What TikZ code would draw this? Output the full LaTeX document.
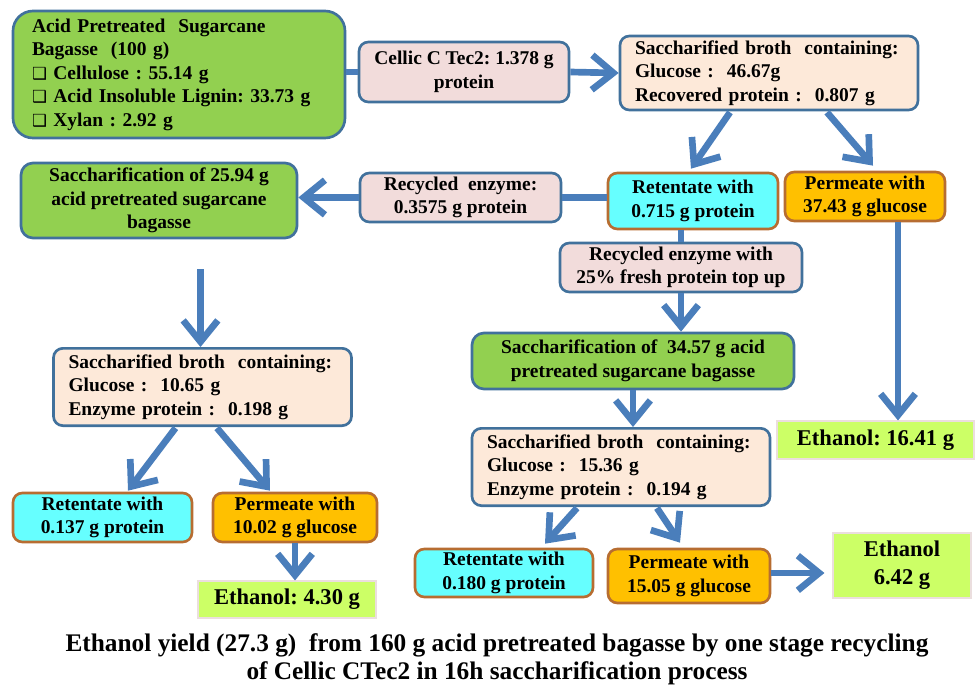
\documentclass[tikz,border=0pt]{standalone}
\usepackage{fontspec}
\setmainfont{Liberation Serif}
\newfontfamily\symfont{DejaVu Sans}
\usetikzlibrary{arrows.meta, calc}
\frenchspacing
\definecolor{flowblue}{RGB}{74,126,187}
\definecolor{edgeblue}{RGB}{65,113,156}
\definecolor{edgebrown}{RGB}{183,109,49}
\definecolor{bagassegreen}{RGB}{146,208,80}
\definecolor{enzymepink}{RGB}{242,220,219}
\definecolor{brothpeach}{RGB}{253,233,217}
\definecolor{retcyan}{RGB}{102,255,255}
\definecolor{permorange}{RGB}{255,192,0}
\definecolor{ethlime}{RGB}{204,255,102}
\definecolor{ethedge}{RGB}{235,222,222}
\newcommand{\tick}{{\symfont\fontsize{12.5}{12.5}\selectfont ❑}\ }
\tikzset{
  box/.style={
    draw=edgeblue,
    line width=2pt,
    rounded corners=7pt,
    inner sep=0pt,
    align=center,
    font=\fontsize{14.6}{17.6}\selectfont\bfseries
  },
  bagasse/.style={box, fill=bagassegreen, rounded corners=9pt},
  enzyme/.style={box, fill=enzymepink},
  broth/.style={
    box,
    fill=brothpeach,
    align=left,
    inner xsep=11.25pt,
    text width=201pt,
    minimum height=58pt
  },
  retentate/.style={box, fill=retcyan, draw=edgebrown},
  permeate/.style={box, fill=permorange, draw=edgebrown},
  ethanol/.style={
    draw=ethedge,
    line width=0.8pt,
    fill=ethlime,
    inner sep=0pt,
    align=center,
    font=\fontsize{16.9}{21}\selectfont\bfseries
  },
  flow/.style={
    draw=flowblue,
    line width=5pt,
    -{Straight Barb[length=16pt,width=26pt]}
  },
  link/.style={draw=flowblue, line width=5pt}
}

\begin{document}
\begin{tikzpicture}[x=0.75pt, y=-0.75pt]
  \useasboundingbox (0,0) rectangle (976,689);

  \node[bagasse, align=left, text width=220.5pt, inner xsep=14.25pt,
        minimum height=95.25pt, rounded corners=15pt] (src) at (179,74.5)
    {Acid Pretreated~ Sugarcane\\ Bagasse~ (100 g)\\ \tick Cellulose : 55.14 g\\
     \tick Acid Insoluble Lignin: 33.73 g\\ \tick Xylan : 2.92 g};
  \node[enzyme, minimum width=157.5pt, minimum height=45pt] (cel) at (464,72)
    {Cellic C Tec2: 1.378 g\\ protein};
  \node[broth, minimum height=55.5pt] (br1) at (769,73)
    {Saccharified broth~ containing:\\ Glucose :~ 46.67g\\ Recovered protein :~ 0.807 g};

  \node[bagasse, minimum width=207pt, minimum height=56.25pt] (sac1) at (159,200.5)
    {Saccharification of 25.94 g\\ acid pretreated sugarcane\\ bagasse};
  \node[enzyme, minimum width=150.75pt, minimum height=36.75pt] (rc1) at (460.5,197.5)
    {Recycled~ enzyme:\\ 0.3575 g protein};
  \node[retentate, minimum width=127.5pt, minimum height=42pt] (ret1) at (693,201)
    {Retentate with\\ 0.715 g protein};
  \node[permeate, minimum width=120pt, minimum height=36.75pt] (perm1) at (865,196.5)
    {Permeate with\\ 37.43 g glucose};

  \node[enzyme, minimum width=181.5pt, minimum height=36.75pt] (rc2) at (681,267.5)
    {Recycled enzyme with\\ 25\% fresh protein top up};
  \node[bagasse, minimum width=241.5pt, minimum height=42pt] (sac2) at (633,361)
    {Saccharification of~ 34.57 g acid\\ pretreated sugarcane bagasse};
  \node[broth] (br3) at (621,467)
    {Saccharified broth~ containing:\\ Glucose :~ 15.36 g\\ Enzyme protein :~ 0.194 g};
  \node[ethanol, minimum width=147.75pt, minimum height=28.5pt] (eth1) at (875.5,440)
    {Ethanol: 16.41 g};

  \node[broth] (br2) at (202.5,387)
    {Saccharified broth~ containing:\\ Glucose :~ 10.65 g\\ Enzyme protein :~ 0.198 g};
  \node[retentate, minimum width=134.25pt, minimum height=36.75pt] (ret2) at (102.5,517.5)
    {Retentate with\\ 0.137 g protein};
  \node[permeate, minimum width=123pt, minimum height=36.75pt] (perm2) at (295,517.5)
    {Permeate with\\ 10.02 g glucose};
  \node[ethanol, minimum width=133.5pt, minimum height=27.75pt] (eth2) at (287,599.5)
    {Ethanol: 4.30 g};

  \node[retentate, minimum width=133.5pt, minimum height=36pt] (ret3) at (504,573)
    {Retentate with\\ 0.180 g protein};
  \node[permeate, minimum width=121.5pt, minimum height=40.5pt] (perm3) at (689,576)
    {Permeate with\\ 15.05 g glucose};
  \node[ethanol, minimum width=103.5pt, minimum height=48.75pt] (eth3) at (902,565.5)
    {Ethanol\\ 6.42 g};

  \node[align=center, font=\fontsize{19}{21}\selectfont\bfseries] (note) at (497,659)
    {Ethanol yield (27.3 g)~ from 160 g acid pretreated bagasse by one stage recycling\\
     of Cellic CTec2 in 16h saccharification process};

  \path (src.east |- cel.west) edge[link] (cel.west)
        (cel.east) edge[flow] (br1.west)
        ($(br1.south)+(-39,1)$) edge[flow] ($(ret1.north)+(-2,-3)$)
        ($(br1.south)+(58,1)$) edge[flow] ($(perm1.north)+(8,-5)$)
        (ret1.west |- rc1.east) edge[link] (rc1.east)
        (rc1.west) edge[flow] (rc1.west -| sac1.east)
        (ret1.south -| rc2.north) edge[link] (rc2.north)
        (rc2.south) edge[flow] (rc2.south |- sac2.north)
        ($(perm1.south)+(33,0)$) edge[flow] ($(eth1.north)+(22.5,0)$)
        ($(sac1.south -| br2.north)+(-2,30)$) edge[flow] ($(br2.north)+(-2,0)$)
        ($(br2.south)+(-27,1)$) edge[flow] ($(ret2.north)+(25.5,-1)$)
        ($(br2.south)+(14.5,1)$) edge[flow] ($(perm2.north)+(-25,-1)$)
        (perm2.south) edge[flow] (perm2.south |- eth2.north)
        (sac2.south) edge[flow] (sac2.south |- br3.north)
        ($(br3.south)+(-44,1)$) edge[flow] ($(ret3.north)+(41,-4)$)
        ($(br3.south)+(36,1)$) edge[flow] ($(perm3.north)+(-9,-5)$)
        (perm3.east |- 0,573) edge[flow] ($(eth3.west |- 0,573)+(-8,0)$);
\end{tikzpicture}
\end{document}
